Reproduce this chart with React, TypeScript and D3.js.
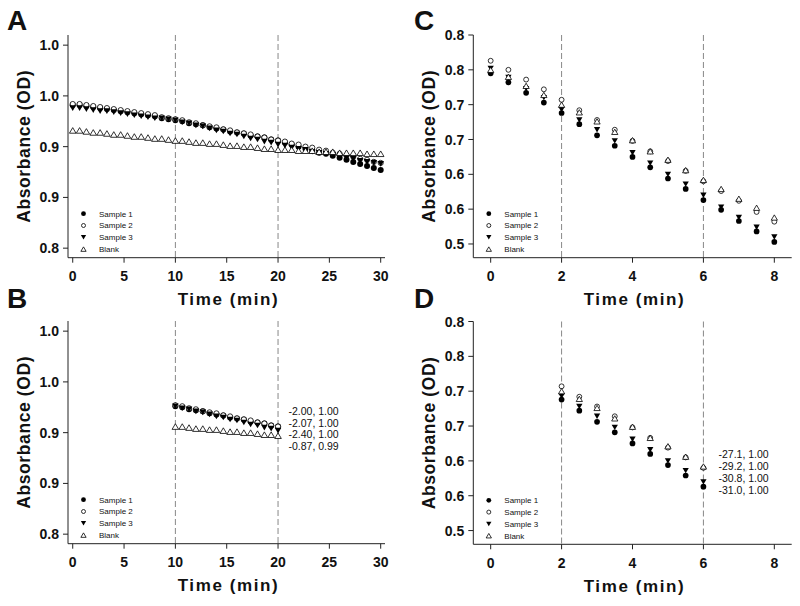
import React from "react";
import * as d3 from "d3";

// ---------- DATA ----------
const seriesNames = ["Sample 1", "Sample 2", "Sample 3", "Blank"];

const timesAB = [0, 0.67, 1.33, 2, 2.67, 3.33, 4, 4.67, 5.33, 6, 6.67, 7.33, 8, 8.67, 9.33, 10,
  10.67, 11.33, 12, 12.67, 13.33, 14, 14.67, 15.33, 16, 16.67, 17.33, 18, 18.67, 19.33, 20,
  20.67, 21.33, 22, 22.67, 23.33, 24, 24.67, 25.33, 26, 26.67, 27.33, 28, 28.67, 29.33, 30];

const sample1AB = [0.941, 0.941, 0.940, 0.939, 0.938, 0.937, 0.936, 0.935, 0.934, 0.933, 0.932, 0.931, 0.930, 0.928, 0.927, 0.926,
  0.925, 0.923, 0.922, 0.921, 0.919, 0.918, 0.917, 0.915, 0.914, 0.913, 0.911, 0.910, 0.909, 0.907, 0.906,
  0.904, 0.902, 0.900, 0.898, 0.896, 0.894, 0.893, 0.891, 0.889, 0.887, 0.885, 0.883, 0.881, 0.879, 0.877];
const sample2AB = [0.942, 0.942, 0.941, 0.940, 0.939, 0.938, 0.937, 0.936, 0.935, 0.934, 0.933, 0.932, 0.931, 0.929, 0.928, 0.927,
  0.926, 0.924, 0.923, 0.921, 0.920, 0.919, 0.917, 0.916, 0.914, 0.913, 0.912, 0.910, 0.909, 0.907, 0.906,
  0.905, 0.903, 0.902, 0.900, 0.899, 0.897, 0.896, 0.894, 0.893, 0.891, 0.890, 0.888, 0.887, 0.885, 0.884];
const sample3AB = [0.938, 0.938, 0.937, 0.936, 0.935, 0.935, 0.934, 0.933, 0.932, 0.931, 0.930, 0.929, 0.928, 0.928, 0.927, 0.926,
  0.924, 0.923, 0.921, 0.920, 0.918, 0.916, 0.915, 0.913, 0.912, 0.910, 0.908, 0.907, 0.905, 0.904, 0.902,
  0.901, 0.899, 0.898, 0.897, 0.895, 0.894, 0.893, 0.892, 0.890, 0.889, 0.888, 0.886, 0.885, 0.884, 0.883];
const blankAB = [0.916, 0.916, 0.915, 0.914, 0.914, 0.913, 0.912, 0.912, 0.911, 0.910, 0.910, 0.909, 0.908, 0.908, 0.907, 0.906,
  0.906, 0.905, 0.904, 0.904, 0.903, 0.903, 0.902, 0.901, 0.901, 0.900, 0.900, 0.899, 0.898, 0.898, 0.897,
  0.897, 0.897, 0.896, 0.896, 0.896, 0.895, 0.895, 0.895, 0.894, 0.894, 0.894, 0.894, 0.893, 0.893, 0.893];

const timesCD = [0, 0.5, 1, 1.5, 2, 2.5, 3, 3.5, 4, 4.5, 5, 5.5, 6, 6.5, 7, 7.5, 8];
const sample1CD = [0.745, 0.732, 0.717, 0.703, 0.688, 0.672, 0.656, 0.641, 0.625, 0.610, 0.594, 0.579, 0.563, 0.549, 0.533, 0.518, 0.503];
const sample2CD = [0.763, 0.750, 0.736, 0.722, 0.707, 0.692, 0.678, 0.664, 0.648, 0.633, 0.619, 0.605, 0.590, 0.576, 0.562, 0.546, 0.532];
const sample3CD = [0.752, 0.739, 0.723, 0.710, 0.693, 0.678, 0.664, 0.648, 0.631, 0.616, 0.600, 0.586, 0.570, 0.553, 0.538, 0.524, 0.510];
const blankCD = [0.750, 0.740, 0.727, 0.714, 0.700, 0.689, 0.676, 0.661, 0.649, 0.633, 0.621, 0.606, 0.592, 0.579, 0.565, 0.552, 0.538];

const xTicksAB = [0, 5, 10, 15, 20, 25, 30];
const yTicksAB = [0.80, 0.85, 0.90, 0.95, 1.00];
const yTickLabelsAB = ["0.8", "0.9", "0.9", "1.0", "1.0"];
const xTicksCD = [0, 2, 4, 6, 8];
const yTicksCD = [0.50, 0.55, 0.60, 0.65, 0.70, 0.75, 0.80];
const yTickLabelsCD = ["0.5", "0.6", "0.6", "0.7", "0.7", "0.8", "0.8"];

const windowAB = [10, 20];
const windowCD = [2, 6];
const fitLabelsB = ["-2.00, 1.00", "-2.07, 1.00", "-2.40, 1.00", "-0.87, 0.99"];
const fitLabelsD = ["-27.1, 1.00", "-29.2, 1.00", "-30.8, 1.00", "-31.0, 1.00"];

// ---------- DRAWING ----------
const FONT = "Arial, 'Liberation Sans', Helvetica, sans-serif";
const markerTypes = ["filledCircle", "openCircle", "filledDown", "openUp"];

function Marker({ type, x, y, s = 1 }: { type: string; x: number; y: number; s?: number }) {
  const r = 3 * s;
  if (type === "filledCircle") return <circle cx={x} cy={y} r={r} fill="#000" />;
  if (type === "openCircle") return <circle cx={x} cy={y} r={r - 0.4} fill="#fff" stroke="#000" strokeWidth={0.8} />;
  const w = 3.3 * s, h = 2.8 * s;
  if (type === "filledDown")
    return <path d={`M${x - w},${y - h}L${x + w},${y - h}L${x},${y + h}Z`} fill="#000" />;
  return <path d={`M${x - w},${y + h}L${x + w},${y + h}L${x},${y - h}Z`} fill="#fff" stroke="#000" strokeWidth={0.8} />;
}

type PanelProps = {
  letter: string;
  letterX: number;
  letterY: number;
  axisLeft: number;
  axisRight: number;
  axisTop: number;
  axisBottom: number;
  xDomain: [number, number];
  yDomain: [number, number];
  xTicks: number[];
  yTicks: number[];
  yTickLabels: string[];
  times: number[];
  series: number[][];
  window: number[];
  clip?: number[];
  fitLabels?: string[];
  fitX?: number;
  fitY?: number;
  markerScale: number;
};

function Panel(p: PanelProps) {
  const x = d3.scaleLinear().domain(p.xDomain).range([p.axisLeft, p.axisRight]);
  const y = d3.scaleLinear().domain(p.yDomain).range([p.axisBottom, p.axisTop]);
  const midX = (p.axisLeft + p.axisRight) / 2;
  const midY = (p.axisTop + p.axisBottom) / 2;
  const axisColor = "#222";
  return (
    <g>
      <text x={p.letterX} y={p.letterY} fontFamily={FONT} fontWeight="bold" fontSize={28} fill="#111">
        {p.letter}
      </text>
      {p.window.map((w) => (
        <line key={"w" + w} x1={x(w)} x2={x(w)} y1={p.axisTop} y2={p.axisBottom}
          stroke="#888" strokeWidth={1} strokeDasharray="6,3" />
      ))}
      <line x1={p.axisLeft} x2={p.axisLeft} y1={p.axisTop} y2={p.axisBottom} stroke={axisColor} strokeWidth={1} />
      <line x1={p.axisLeft} x2={p.axisRight} y1={p.axisBottom} y2={p.axisBottom} stroke={axisColor} strokeWidth={1} />
      {p.yTicks.map((t, i) => (
        <g key={"yt" + i}>
          <line x1={p.axisLeft - 5} x2={p.axisLeft} y1={y(t)} y2={y(t)} stroke={axisColor} strokeWidth={1} />
          <text x={p.axisLeft - 9} y={y(t)} dy="0.36em" textAnchor="end" fontFamily={FONT}
            fontWeight="bold" fontSize={14} fill="#111">{p.yTickLabels[i]}</text>
        </g>
      ))}
      {p.xTicks.map((t) => (
        <g key={"xt" + t}>
          <line x1={x(t)} x2={x(t)} y1={p.axisBottom} y2={p.axisBottom + 5} stroke={axisColor} strokeWidth={1} />
          <text x={x(t)} y={p.axisBottom + 23.5} textAnchor="middle" fontFamily={FONT}
            fontWeight="bold" fontSize={14} fill="#111">{t}</text>
        </g>
      ))}
      <text x={midX + 2} y={p.axisBottom + 47.5} textAnchor="middle" fontFamily={FONT} fontWeight="bold"
        fontSize={17} letterSpacing={1.6} fill="#111">Time (min)</text>
      <text transform={`translate(${p.axisLeft - 44},${midY}) rotate(-90)`} textAnchor="middle" dy="0.35em"
        fontFamily={FONT} fontWeight="bold" fontSize={17.5} letterSpacing={0.6} fill="#111">Absorbance (OD)</text>
      {p.series.map((vals, si) =>
        vals.map((v, i) => {
          const t = p.times[i];
          if (p.clip && (t < p.clip[0] - 1e-6 || t > p.clip[1] + 1e-6)) return null;
          return <Marker key={si + "-" + i} type={markerTypes[si]} x={x(t)} y={y(v)} s={p.markerScale} />;
        })
      )}
      {seriesNames.map((n, i) => (
        <g key={"lg" + i}>
          <Marker type={markerTypes[i]} x={p.axisLeft + 15.5} y={p.axisBottom - 44 + i * 11.8} s={0.8} />
          <text x={p.axisLeft + 31} y={p.axisBottom - 44 + i * 11.8} dy="0.35em" fontFamily={FONT}
            fontSize={8} fill="#111">{n}</text>
        </g>
      ))}
      {p.fitLabels && p.fitLabels.map((l, i) => (
        <text key={"f" + i} x={p.fitX} y={(p.fitY as number) + i * 11.9} dy="0.35em" fontFamily={FONT}
          fontSize={10.5} fill="#111">{l}</text>
      ))}
    </g>
  );
}

export default function App() {
  const seriesAB = [sample1AB, sample2AB, sample3AB, blankAB];
  const seriesCD = [sample1CD, sample2CD, sample3CD, blankCD];
  return (
    <svg width={800} height={606} style={{ position: "absolute", left: 0, top: 0, background: "#fff" }}>
      <rect x={0} y={0} width={800} height={606} fill="#fff" />
      <Panel letter="A" letterX={7} letterY={30} axisLeft={68} axisRight={385} axisTop={35} axisBottom={257.7}
        xDomain={[-0.46, 30.42]} yDomain={[0.7906, 1.01]} xTicks={xTicksAB} yTicks={yTicksAB}
        yTickLabels={yTickLabelsAB} times={timesAB} series={seriesAB} window={windowAB} markerScale={1} />
      <Panel letter="B" letterX={7} letterY={308} axisLeft={68} axisRight={385} axisTop={321} axisBottom={543.7}
        xDomain={[-0.46, 30.42]} yDomain={[0.7906, 1.01]} xTicks={xTicksAB} yTicks={yTicksAB}
        yTickLabels={yTickLabelsAB} times={timesAB} series={seriesAB} window={windowAB} clip={windowAB}
        fitLabels={fitLabelsB} fitX={288.5} fitY={411} markerScale={1} />
      <Panel letter="C" letterX={414} letterY={30} axisLeft={473.3} axisRight={791.7} axisTop={35} axisBottom={257.7}
        xDomain={[-0.49, 8.49]} yDomain={[0.4803, 0.80]} xTicks={xTicksCD} yTicks={yTicksCD}
        yTickLabels={yTickLabelsCD} times={timesCD} series={seriesCD} window={windowCD} markerScale={0.95} />
      <Panel letter="D" letterX={414} letterY={308} axisLeft={473.3} axisRight={791.7} axisTop={321.5} axisBottom={544.3}
        xDomain={[-0.49, 8.49]} yDomain={[0.4803, 0.80]} xTicks={xTicksCD} yTicks={yTicksCD}
        yTickLabels={yTickLabelsCD} times={timesCD} series={seriesCD} window={windowCD} clip={windowCD}
        fitLabels={fitLabelsD} fitX={718.5} fitY={454.3} markerScale={0.95} />
    </svg>
  );
}
